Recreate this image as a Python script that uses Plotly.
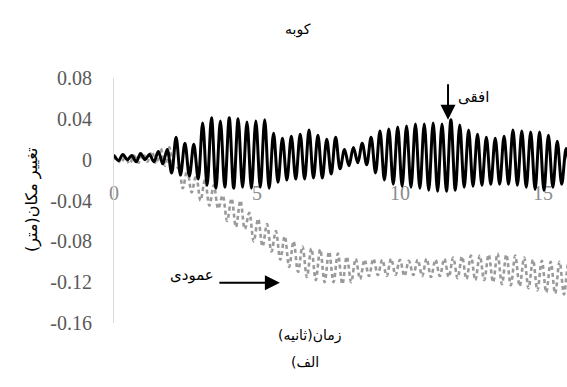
import plotly.graph_objects as go

# ---- data ----
cycle = 0.31          # oscillation period in seconds (peak to peak)
# horizontal displacement: peak and trough of each cycle
h_peak = [0.004, 0.005, 0.004, 0.006, 0.005, 0.008, 0.010, 0.022, 0.016, 0.015,
          0.036, 0.041, 0.038, 0.041, 0.040, 0.037, 0.038, 0.039, 0.026, 0.021,
          0.023, 0.025, 0.029, 0.024, 0.020, 0.022, 0.010, 0.012, 0.016, 0.022,
          0.028, 0.030, 0.032, 0.033, 0.035, 0.035, 0.036, 0.035, 0.039, 0.034,
          0.029, 0.025, 0.022, 0.021, 0.023, 0.029, 0.028, 0.027, 0.027, 0.024,
          0.018, 0.011]
h_trough = [-0.001, 0.000, -0.002, 0.000, -0.002, -0.004, -0.013, -0.015, -0.016, -0.019,
            -0.025, -0.028, -0.027, -0.028, -0.027, -0.028, -0.027, -0.028, -0.022, -0.020,
            -0.019, -0.019, -0.018, -0.018, -0.014, -0.009, -0.006, -0.003, -0.005, -0.013,
            -0.020, -0.024, -0.026, -0.027, -0.028, -0.030, -0.031, -0.031, -0.030, -0.027,
            -0.026, -0.025, -0.024, -0.024, -0.024, -0.025, -0.027, -0.029, -0.030, -0.027,
            -0.024, -0.021]
# vertical displacement: upper and lower value of each cycle
v_up = [0.003, 0.002, 0.004, 0.006, 0.008, 0.011, 0.012, -0.008, -0.010, -0.015,
        -0.020, -0.025, -0.035, -0.038, -0.040, -0.052, -0.058, -0.063, -0.070, -0.075,
        -0.080, -0.085, -0.087, -0.088, -0.090, -0.092, -0.095, -0.097, -0.098, -0.097,
        -0.098, -0.097, -0.098, -0.099, -0.098, -0.097, -0.098, -0.097, -0.096, -0.095,
        -0.094, -0.094, -0.093, -0.092, -0.093, -0.094, -0.096, -0.098, -0.099, -0.100,
        -0.100, -0.101]
v_low = [-0.003, -0.004, -0.003, -0.002, -0.004, -0.006, -0.010, -0.028, -0.032, -0.040,
         -0.045, -0.048, -0.060, -0.066, -0.068, -0.080, -0.085, -0.090, -0.098, -0.105,
         -0.110, -0.115, -0.118, -0.120, -0.120, -0.122, -0.120, -0.117, -0.114, -0.113,
         -0.114, -0.113, -0.114, -0.113, -0.114, -0.115, -0.114, -0.115, -0.116, -0.117,
         -0.118, -0.118, -0.120, -0.122, -0.123, -0.124, -0.126, -0.128, -0.130, -0.131,
         -0.132, -0.132]

y_tickvals = [0.08, 0.04, 0, -0.04, -0.08, -0.12, -0.16]
y_ticktext = ["0.08", "0.04", "0", "-0.04", "-0.08", "-0.12", "-0.16"]
x_tickvals = [0, 5, 10, 15]

# texts (logical order chosen so the right-to-left rendering shows them as in the source)
title_text = "کوبه"
x_title = "(ثانیه)زمان"
y_title = "تغییر مکان(متر)"
sub_label = "(الف"
h_label = "افقی"
v_label = "عمودی"

# ---- build alternating extrema sequences ----
h_t, h_y = [], []
for k, (p, q) in enumerate(zip(h_peak, h_trough)):
    h_t += [k * cycle, k * cycle + cycle / 2]
    h_y += [p, q]
v_t, v_y = [], []
for k, (p, q) in enumerate(zip(v_up, v_low)):
    v_t += [k * cycle + 0.08, k * cycle + 0.08 + cycle / 2]
    v_y += [p, q]
h_t = [0.0] + h_t
h_y = [0.002] + h_y
v_t = [0.0] + v_t
v_y = [0.0] + v_y

fig = go.Figure()
fig.add_trace(go.Scatter(x=v_t, y=v_y, mode="lines", line_shape="spline",
                         line=dict(color="#9a9a9a", width=2.6, dash="4px,3px"),
                         showlegend=False, hoverinfo="skip"))
fig.add_trace(go.Scatter(x=h_t, y=h_y, mode="lines", line_shape="spline",
                         line=dict(color="#000000", width=3),
                         showlegend=False, hoverinfo="skip"))

L, T, B = 114, 78, 64
W, H = 567, 387
pw, ph = W - L, H - T - B
y0_frac = (0 - (-0.16)) / 0.24

def px(p):
    return (p - L) / pw

def py(q):
    return (H - B - q) / ph

arabic = "DejaVu Sans"
serif = "Liberation Serif, Times New Roman, serif"

fig.update_layout(
    width=W, height=H,
    margin=dict(l=L, r=0, t=T, b=B),
    paper_bgcolor="white", plot_bgcolor="white",
    showlegend=False,
    xaxis=dict(range=[0, 15.84], tickvals=x_tickvals, ticktext=[str(v) for v in x_tickvals],
               showgrid=False, zeroline=False, showline=False, ticks="",
               anchor="free", position=y0_frac, ticklabelstandoff=19,
               tickfont=dict(family=serif, size=20, color="#8c8c8c"),
               layer="below traces"),
    yaxis=dict(range=[-0.16, 0.08], tickvals=y_tickvals, ticktext=y_ticktext,
               showgrid=False, zeroline=False, showline=True, linecolor="#d9d9d9",
               linewidth=1, ticks="", ticklabelstandoff=17,
               tickfont=dict(family=serif, size=20, color="#595959")),
    annotations=[
        dict(text=title_text, xref="paper", yref="paper", x=px(298), y=py(19),
             showarrow=False, font=dict(family=arabic, size=14, color="#000")),
        dict(text=x_title, xref="paper", yref="paper", x=px(310), y=py(346),
             showarrow=False, font=dict(family=arabic, size=14, color="#000")),
        dict(text=sub_label, xref="paper", yref="paper", x=px(305), y=py(372),
             showarrow=False, font=dict(family=arabic, size=14, color="#000")),
        dict(text=y_title, xref="paper", yref="paper", x=px(20), y=py(200),
             textangle=-90, showarrow=False, font=dict(family=arabic, size=16, color="#000")),
        dict(text=h_label, xref="paper", yref="paper", x=px(491), y=py(86),
             showarrow=False, font=dict(family=arabic, size=15, color="#000")),
        dict(text=v_label, xref="paper", yref="paper", x=px(168), y=py(286),
             showarrow=False, font=dict(family=arabic, size=15, color="#000")),
        dict(text="", x=11.68, y=0.039, xref="x", yref="y", showarrow=True,
             ax=0, ay=-37, arrowhead=2, arrowsize=1.5, arrowwidth=2, arrowcolor="#000",
             standoff=0),
        dict(text="", x=5.80, y=-0.1205, xref="x", yref="y", showarrow=True,
             ax=-62, ay=0, arrowhead=2, arrowsize=1.5, arrowwidth=2, arrowcolor="#000",
             standoff=0),
    ],
)

fig.write_html("out.html")
